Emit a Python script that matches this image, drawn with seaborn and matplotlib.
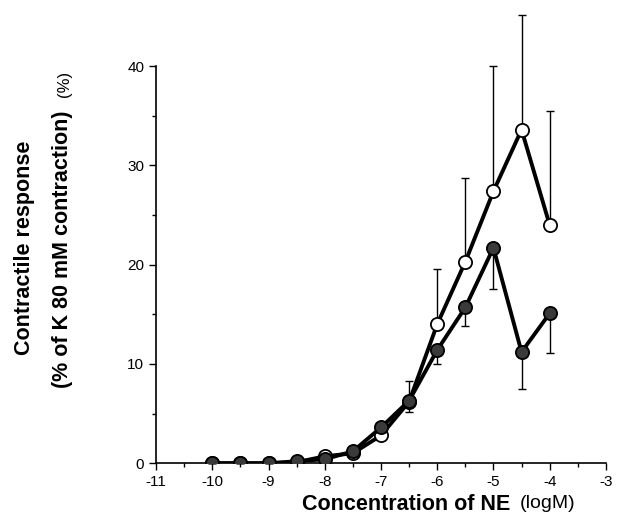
import numpy as np
import pandas as pd
import matplotlib
matplotlib.use("Agg")
import matplotlib.pyplot as plt
import seaborn as sns

# log concentration of NE
conc = [-10, -9.5, -9, -8.5, -8, -7.5, -7, -6.5, -6, -5.5, -5, -4.5, -4]

# open circles (mean, upward SE)
open_mean = [0.0, 0.0, 0.0, 0.1, 0.7, 1.0, 2.8, 6.2, 14.0, 20.3, 27.4, 33.6, 24.0]
open_err = [0.0, 0.0, 0.0, 0.0, 0.0, 0.0, 0.3, 2.1, 5.6, 8.4, 12.6, 11.6, 11.5]

# filled circles (mean, downward SE)
filled_mean = [0.0, 0.0, 0.0, 0.2, 0.4, 1.2, 3.6, 6.3, 11.4, 15.7, 21.7, 11.2, 15.1]
filled_err = [0.0, 0.0, 0.0, 0.0, 0.0, 0.0, 0.3, 1.1, 1.4, 1.9, 4.1, 3.7, 4.0]

sns.set_style("ticks")
plt.rcParams['font.family'] = ['Liberation Sans', 'DejaVu Sans']
plt.rcParams['text.color'] = 'black'
plt.rcParams['xtick.color'] = 'black'
plt.rcParams['ytick.color'] = 'black'
plt.rcParams['axes.edgecolor'] = 'black'
plt.rcParams['axes.unicode_minus'] = False

fig = plt.figure(figsize=(6.17, 5.17), dpi=100)
ax = fig.add_axes([0.253, 0.104, 0.729, 0.768])

zeros = np.zeros(len(conc))

# open series first so the filled one sits on top
ax.errorbar(conc, open_mean, yerr=[zeros, open_err], fmt='none',
            ecolor='black', elinewidth=1.0, capsize=3, capthick=1.0,
            zorder=1, clip_on=False)
sns.lineplot(x=conc, y=open_mean, ax=ax, color='black', linewidth=2.8,
             marker='o', markersize=9.5, markerfacecolor='white',
             markeredgecolor='black', markeredgewidth=1.3, zorder=2)

ax.errorbar(conc, filled_mean, yerr=[filled_err, zeros], fmt='none',
            ecolor='black', elinewidth=1.0, capsize=3, capthick=1.0,
            zorder=3, clip_on=False)
sns.lineplot(x=conc, y=filled_mean, ax=ax, color='black', linewidth=2.8,
             marker='o', markersize=9.5, markerfacecolor='#3a3a3a',
             markeredgecolor='black', markeredgewidth=1.3, zorder=4)

ax.set_xlim(-11, -3)
ax.set_ylim(0, 40)
ax.set_xticks(range(-11, -2))
ax.set_xticks(np.arange(-10.5, -3, 1), minor=True)
ax.set_yticks(range(0, 41, 10))
ax.set_yticks(range(5, 40, 10), minor=True)
ax.tick_params(axis='both', which='major', labelsize=11, length=5, width=1)
ax.tick_params(axis='both', which='minor', length=3, width=1)
sns.despine(ax=ax)
for s in ['left', 'bottom']:
    ax.spines[s].set_linewidth(1.2)

ax.set_xlabel('')
ax.set_ylabel('')

# axis titles placed by hand, as in the printed figure
fig.text(0.489, 0.024, 'Concentration of NE', fontsize=15.5, fontweight='bold',
         ha='left', va='center')
fig.text(0.843, 0.027, '(logM)', fontsize=14, ha='left', va='center')
fig.text(0.040, 0.52, 'Contractile response', fontsize=15.5, fontweight='bold',
         rotation=90, ha='center', va='center')
fig.text(0.102, 0.249, '(% of K 80 mM contraction)', fontsize=15.5,
         fontweight='bold', rotation=90, ha='center', va='bottom')
fig.text(0.104, 0.812, '(%)', fontsize=12, rotation=90, ha='center', va='bottom')

fig.savefig('out.png', dpi=100)
